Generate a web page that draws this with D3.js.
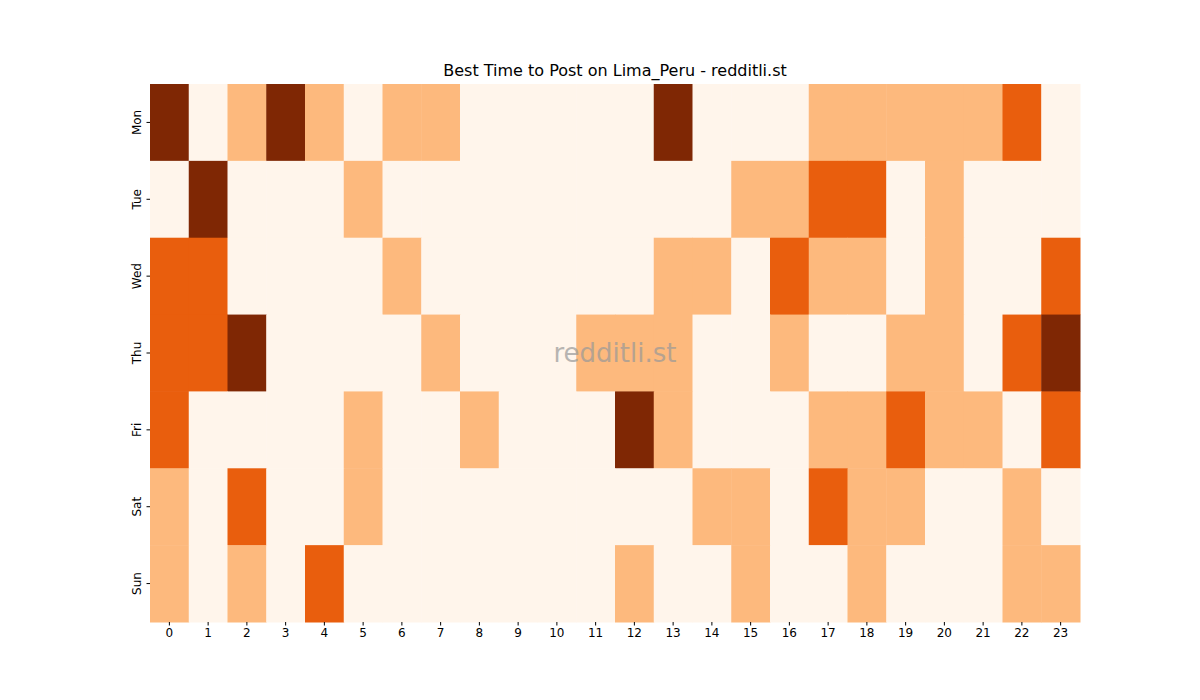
<!DOCTYPE html>
<html><head><meta charset="utf-8">
<script src="https://cdn.jsdelivr.net/npm/d3@7"></script>
<style>body{margin:0;background:#fff}</style></head>
<body><svg id="c" width="1200" height="700"></svg>
<script>
const days = ["Mon","Tue","Wed","Thu","Fri","Sat","Sun"];
const hours = d3.range(24).map(String);
const mon = [3,0,1,3,1,0,1,1,0,0,0,0,0,3,0,0,0,1,1,1,1,1,2,0];
const tue = [0,3,0,0,0,1,0,0,0,0,0,0,0,0,0,1,1,2,2,0,1,0,0,0];
const wed = [2,2,0,0,0,0,1,0,0,0,0,0,0,1,1,0,2,1,1,0,1,0,0,2];
const thu = [2,2,3,0,0,0,0,1,0,0,0,1,1,1,0,0,1,0,0,1,1,0,2,3];
const fri = [2,0,0,0,0,1,0,0,1,0,0,0,3,1,0,0,0,1,1,2,1,1,0,2];
const sat = [1,0,2,0,0,1,0,0,0,0,0,0,0,0,1,1,0,2,1,1,0,0,1,0];
const sun = [1,0,1,0,2,0,0,0,0,0,0,0,1,0,0,1,0,0,1,0,0,0,1,1];
const rows = [mon,tue,wed,thu,fri,sat,sun];
const palette = ["#fff5eb","#fdb97d","#e95e0d","#7f2704"];

const svg = d3.select("#c");
const x = d3.scaleBand().domain(hours).range([150,1080]);
const y = d3.scaleBand().domain(days).range([84,622]);
const color = d3.scaleOrdinal().domain([0,1,2,3]).range(palette);
const cells = [];
rows.forEach((r,i)=>r.forEach((v,j)=>cells.push({d:days[i],h:hours[j],v})));
svg.selectAll("rect.cell").data(cells).join("rect")
  .attr("x",d=>x(d.h)).attr("y",d=>y(d.d))
  .attr("width",x.bandwidth()+0.5).attr("height",y.bandwidth()+0.5)
  .attr("fill",d=>color(d.v));
const font = "DejaVu Sans, sans-serif";
const xa = svg.append("g").attr("transform","translate(0,622)").call(d3.axisBottom(x).tickSize(3.5).tickSizeOuter(0));
const ya = svg.append("g").attr("transform","translate(150,0)").call(d3.axisLeft(y).tickSize(3.5).tickSizeOuter(0));
[xa,ya].forEach(a=>{a.select(".domain").remove();a.selectAll("text").attr("font-family",font).attr("font-size",12).attr("fill","#000");});
ya.selectAll(".tick text").attr("transform","rotate(-90)").attr("text-anchor","middle").attr("x",0).attr("dy",0).attr("y",-9);
svg.append("text").attr("x",615).attr("y",76).attr("text-anchor","middle")
  .attr("font-family",font).attr("font-size",16).text("Best Time to Post on Lima_Peru - redditli.st");
svg.append("text").attr("x",615).attr("y",362).attr("text-anchor","middle")
  .attr("font-family",font).attr("font-size",26).attr("fill","#999").attr("opacity",0.7).text("redditli.st");
</script></body></html>
